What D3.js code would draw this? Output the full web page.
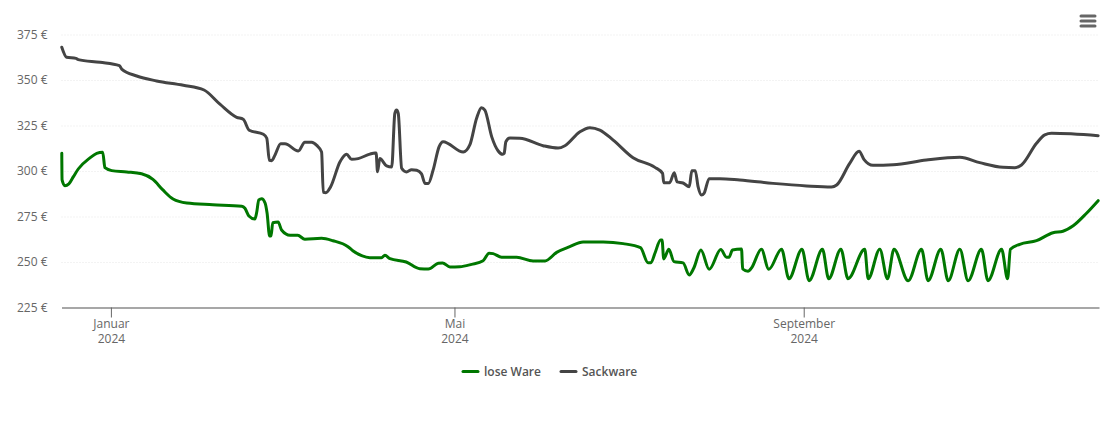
<!DOCTYPE html>
<html lang="de">
<head>
<meta charset="utf-8">
<title>Preisverlauf</title>
<script src="https://cdn.jsdelivr.net/npm/d3@7"></script>
<style>
  html, body { margin: 0; background: #fff; }
  svg { display: block; }
  svg text { font-family: "Open Sans", sans-serif; }
  .tick text { font-size: 12px; fill: #666; }
  .legend text { font-size: 12px; font-weight: 600; fill: #555; }
</style>
</head>
<body>
<svg id="chart" width="1110" height="422"></svg>
<script>
// Layout constants
const width = 1110, height = 422;
const margin = { top: 34.5, right: 11, bottom: 114.5, left: 61.5 };

// [days since first sample, price in EUR]
const startDate = new Date(Date.UTC(2023, 11, 14, 14, 24));
const loseWare = [
  [0.1,309.7],[0.2,295.1],[1.2,291.9],[2.6,292.9],[4.2,296.9],[5.9,301.1],[10,307.2],[12.4,309.7],[14.5,310.3],
  [15.3,301.8],[17.7,300.2],[23,299.5],[28.2,298.5],[32.2,295.4],[35.7,289.6],[39.3,284.6],[44.1,282.4],[53.3,281.5],
  [63.5,280.6],[64.6,279.5],[66,275.3],[68.1,273.6],[68.7,276.9],[69.5,284.1],[70.5,284.8],[71.7,282.4],[72.4,276.9],
  [73.3,264.3],[73.8,264.3],[74.4,271.6],[76.3,272],[77.5,267.6],[80.5,264.7],[83.2,264.7],[85.7,262.5],[91.6,263],
  [95.6,261.7],[100.9,258.4],[102.6,256.2],[105.7,253.5],[108.6,252.4],[112.7,252.4],[113.9,253.7],[115.7,251.8],
  [121.4,250],[126.2,246.3],[129.2,246.2],[132.7,249.3],[134.2,249.5],[136.8,247.3],[140.3,247.4],[144.4,248.7],
  [148.5,250.7],[150.6,254.8],[152,254.6],[155,252.6],[160.3,252.6],[166.1,250.6],[170.3,250.6],[174.4,255.3],
  [179,258.4],[183.7,261],[190.8,261],[197.8,260.1],[203.9,257.9],[206.6,249.6],[207.6,249.6],[209,254.8],[211,262.1],
  [211.5,262.1],[212.1,251.7],[213.9,257],[215.7,250.2],[218.9,249.5],[221.1,242.9],[222.7,246.7],[225.2,256.6],
  [228.1,246],[232.2,256.8],[234.2,252.6],[235.1,252.6],[236.3,256.6],[239.5,257.1],[239.9,246.2],[241.8,244.9],
  [243,246.7],[246.5,257],[249.1,246],[253.6,257],[256.2,240.8],[260.8,257],[263.3,239.7],[268,257],[270.2,240.8],
  [274.5,257],[277,240.8],[282.9,257],[284.1,240.8],[288.2,257],[290.9,240.8],[293.2,257],[298.2,239.7],[302.9,257],
  [305.2,239.7],[309.7,257],[312.3,239.7],[316.4,257],[319.3,239.7],[324,257],[326.3,239.7],[331.1,257],[333.2,240.8],
  [334.2,257],[337.5,259.7],[343.4,261.7],[349.2,266.1],[352.7,266.9],[356.3,269.9],[361,276.8],[365.1,283.7]
];
const sackware = [
  [0.1,368],[1.8,362.5],[5.1,361.9],[5.9,361.2],[13.6,359.7],[20.4,357.9],[21.2,356],[26.5,352.2],[33.5,349.5],
  [42.9,347.1],[50.2,344.5],[55.8,336.7],[61.7,329.5],[64,328.4],[66.1,322.4],[71.1,320.2],[72.3,318],[73.2,305.9],
  [74,305.7],[75.2,308.8],[77.2,315],[78.7,315],[83.4,311],[85.7,315.8],[88.1,315.8],[89.9,314.1],[91.6,310.4],
  [92.2,288.3],[93.1,288.1],[94.8,291.4],[98.1,305.1],[100.4,309.2],[102.2,306.4],[104.5,306.8],[108.6,309.3],
  [110.4,309.9],[110.8,309.9],[111.3,299.6],[112.1,306.8],[114.5,302.8],[116.3,302.2],[117.4,331.7],[118,333.5],
  [118.6,331.7],[119.8,301.5],[121.5,299.5],[123.3,300.7],[125.1,300.4],[126.8,298.4],[128,293.2],[129.2,293.2],
  [130.9,300.6],[133,313.4],[134.4,316.1],[141.5,310.4],[143.8,314.3],[146.2,329],[147.9,334.8],[149.1,333.5],
  [151.5,318.9],[153.8,311],[155.4,309.2],[155.9,309.7],[156.5,316.1],[157.9,318.1],[161.4,318],[169.6,313.9],
  [174.9,312.6],[177.3,313.9],[182.6,321.6],[186.1,323.8],[189.6,322.5],[194.3,317],[201.3,307.3],[209,302],
  [211.7,298.7],[212.1,293.6],[214.2,293.6],[215.8,299.1],[216.8,294],[218.9,293.4],[221.1,291.4],[222,300.2],
  [223.2,300.2],[224.2,291.4],[225.4,286.8],[226.3,287.7],[228.1,295.8],[231.9,295.8],[238.9,295],[250.6,293.2],
  [262.4,291.8],[271.2,291.2],[273,292.3],[277.6,304.2],[280.9,310.8],[282.6,306.4],[285.8,303.1],[292.9,303.4],
  [304.6,306],[316.4,307.5],[323.4,304.6],[331.6,302],[335.7,301.8],[338.1,303.3],[343.4,315.2],[346.3,319.8],
  [348.7,320.7],[365.1,319.4]
];
const series = [
  { name: "lose Ware", color: "#007700", values: loseWare, legendX: 463 },
  { name: "Sackware", color: "#444444", values: sackware, legendX: 561 }
];
const toDate = d => new Date(+startDate + d * 864e5);

const svg = d3.select("#chart");

// Scales
const x = d3.scaleUtc()
  .domain([startDate, toDate(365.4)])
  .range([margin.left, width - margin.right]);
const y = d3.scaleLinear()
  .domain([225, 375])
  .range([height - margin.bottom, margin.top]);

// Y axis and dotted grid
const yAxis = d3.axisLeft(y)
  .tickValues(d3.range(225, 376, 25))
  .tickSize(0)
  .tickPadding(14)
  .tickFormat(d => `${d} €`);
const yG = svg.append("g")
  .attr("transform", `translate(${margin.left},0)`)
  .call(yAxis);
yG.select(".domain").remove();
yG.selectAll(".tick line")
  .attr("x2", width - margin.left - margin.right)
  .attr("stroke", "#e6e6e6")
  .attr("stroke-dasharray", "1,2");
yG.selectAll(".tick").filter(d => d === 225).select("line").remove();

// X axis with two line labels
const monthNames = { 0: "Januar", 4: "Mai", 8: "September" };
const xAxis = d3.axisBottom(x)
  .tickValues([new Date(Date.UTC(2024, 0, 1)), new Date(Date.UTC(2024, 4, 1)), new Date(Date.UTC(2024, 8, 1))])
  .tickSize(10)
  .tickSizeOuter(0)
  .tickFormat("");
const xG = svg.append("g")
  .attr("transform", `translate(0,${height - margin.bottom})`)
  .call(xAxis);
xG.select(".domain").attr("stroke", "#8a8a8a").attr("stroke-width", 1.4);
xG.selectAll(".tick line").attr("stroke", "#666");
xG.selectAll(".tick text").each(function (d) {
  const t = d3.select(this).text(null).attr("y", 20).attr("dy", 0);
  t.append("tspan").attr("x", 0).text(monthNames[d.getUTCMonth()]);
  t.append("tspan").attr("x", 0).attr("dy", 15).text(d.getUTCFullYear());
});

// Lines
const line = d3.line()
  .x(d => x(toDate(d[0])))
  .y(d => y(d[1]))
  .curve(d3.curveMonotoneX);
svg.append("g").selectAll("path")
  .data(series)
  .join("path")
  .attr("fill", "none")
  .attr("stroke", d => d.color)
  .attr("stroke-width", 3)
  .attr("stroke-linejoin", "round")
  .attr("stroke-linecap", "round")
  .attr("d", d => line(d.values));

// Legend
const legend = svg.append("g").attr("class", "legend")
  .selectAll("g")
  .data(series)
  .join("g")
  .attr("transform", d => `translate(${d.legendX},371.5)`);
legend.append("line")
  .attr("x2", 15)
  .attr("stroke", d => d.color)
  .attr("stroke-width", 3)
  .attr("stroke-linecap", "round");
legend.append("text")
  .attr("x", 21)
  .attr("y", 4)
  .text(d => d.name);

// Menu icon
svg.append("g").selectAll("line")
  .data([16, 21, 26])
  .join("line")
  .attr("x1", 1081)
  .attr("x2", 1095)
  .attr("y1", d => d)
  .attr("y2", d => d)
  .attr("stroke", "#666")
  .attr("stroke-width", 3)
  .attr("stroke-linecap", "round");
</script>
</body>
</html>
